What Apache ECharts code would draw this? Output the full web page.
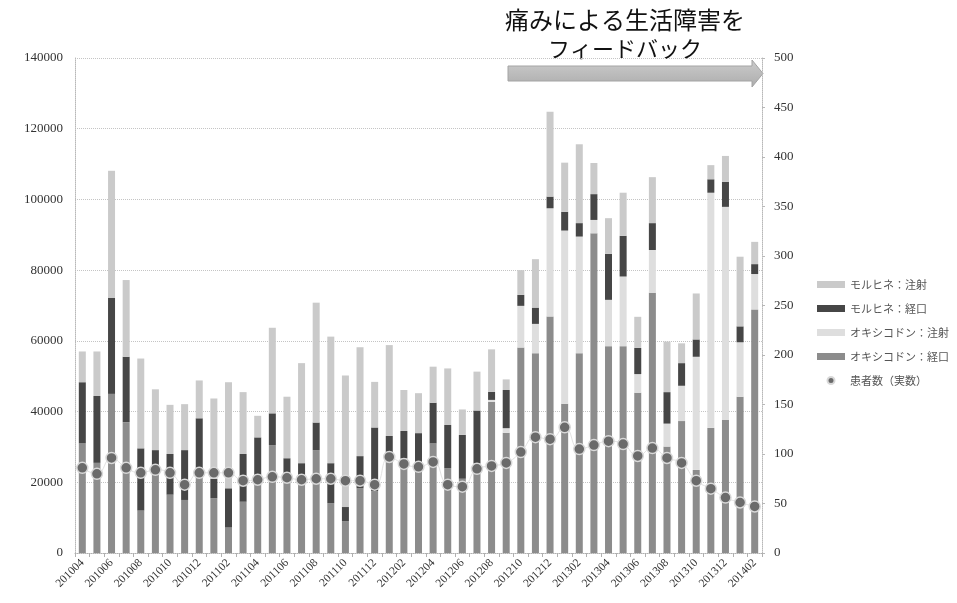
<!DOCTYPE html>
<html>
<head>
<meta charset="utf-8">
<script src="https://cdn.jsdelivr.net/npm/echarts@6/dist/echarts.min.js"></script>
<style>
  html, body { margin: 0; padding: 0; background: #ffffff; }
  #chart { width: 957px; height: 603px; }
</style>
</head>
<body>
<div id="chart"></div>
<script>
// Months (YYYYMM)
const months = [
  '201004','201005','201006','201007','201008','201009','201010','201011','201012',
  '201101','201102','201103','201104','201105','201106','201107','201108','201109','201110','201111','201112',
  '201201','201202','201203','201204','201205','201206','201207','201208','201209','201210','201211','201212',
  '201301','201302','201303','201304','201305','201306','201307','201308','201309','201310','201311','201312',
  '201401','201402'
];

// Stacked amounts, bottom to top
const oxyOral = [
  31000, 25500, 45000, 37000, 12000, 22500, 16500, 15000, 22000,
  15500, 7200, 14500, 22000, 30500, 22600, 22000, 29100, 14100, 9000, 18300, 17500,
  27200, 26800, 25500, 31000, 24000, 21000, 25400, 42800, 34000, 58100, 56500, 66900,
  42200, 56500, 90400, 58500, 58500, 45300, 73600, 30100, 37300, 23500, 35400, 37600,
  44200, 68900
];
const oxyInj = [
  0, 0, 0, 0, 0, 0, 0, 0, 0,
  0, 0, 0, 0, 0, 0, 0, 0, 0, 0, 0, 0,
  0, 0, 0, 0, 0, 0, 0, 500, 1300, 11800, 8300, 30600,
  49000, 33000, 3800, 13100, 19700, 5300, 12100, 6500, 10000, 32000, 66500, 60300,
  15400, 10000
];
const morOral = [
  17300, 18900, 27200, 18500, 17600, 6600, 11500, 14100, 16100,
  5500, 11100, 13500, 10700, 9000, 4200, 3400, 7800, 11300, 4000, 9100, 18000,
  5900, 7700, 8400, 11500, 12200, 12400, 14900, 2300, 10800, 3100, 4600, 3300,
  5300, 3800, 7300, 13000, 11500, 7400, 7600, 8900, 6400, 4900, 3800, 7100,
  4500, 2800
];
const morInj = [
  8700, 12600, 35900, 21700, 25400, 17200, 13900, 13000, 10700,
  22700, 30000, 17500, 6100, 24200, 17400, 28300, 33900, 35800, 37200, 30800, 12900,
  25700, 11600, 11300, 10200, 16000, 7200, 11000, 12000, 3000, 7000, 13700, 24000,
  13900, 22300, 8800, 10100, 12200, 8800, 13000, 14300, 5600, 13000, 4000, 7300,
  19700, 6300
];

// Patient counts (right axis)
const patients = [
  86, 80, 96, 86, 81, 84, 81, 69, 81,
  81, 81, 73, 74, 77, 76, 74, 75, 75, 73, 73, 69,
  97, 90, 87, 92, 69, 67, 85, 88, 91, 102, 117, 115,
  127, 105, 109, 113, 110, 98, 106, 96, 91, 73, 65, 56,
  51, 47
];

const names = ['モルヒネ：注射', 'モルヒネ：経口', 'オキシコドン：注射', 'オキシコドン：経口', '患者数（実数）'];

const numFont = 'Liberation Serif';
const jpFont = 'Noto Sans CJK JP';

function barSeries(name, data, color) {
  return {
    name: name,
    type: 'bar',
    stack: 'total',
    data: data,
    barWidth: 7,
    itemStyle: { color: color },
    emphasis: { disabled: true }
  };
}

const chart = echarts.init(document.getElementById('chart'), null, { renderer: 'canvas' });

chart.setOption({
  animation: false,
  backgroundColor: '#ffffff',
  grid: { left: 75, right: 195, top: 58, bottom: 50, containLabel: false },
  legend: {
    orient: 'vertical',
    left: 812,
    top: 274,
    itemWidth: 28,
    itemHeight: 7,
    itemGap: 13,
    data: [
      { name: names[0], icon: 'rect' },
      { name: names[1], icon: 'rect' },
      { name: names[2], icon: 'rect' },
      { name: names[3], icon: 'rect' },
      { name: names[4], icon: 'circle' }
    ],
    textStyle: { fontFamily: jpFont, fontSize: 11, color: '#555555' }
  },
  xAxis: {
    type: 'category',
    data: months,
    boundaryGap: true,
    axisLine: { show: true, lineStyle: { color: '#b0b0b0', type: 'dotted' } },
    axisTick: { show: true, interval: 0, length: 4, lineStyle: { color: '#b0b0b0' } },
    axisLabel: {
      interval: 1,
      rotate: 45,
      margin: 8,
      fontFamily: numFont,
      fontSize: 11.5,
      color: '#333333'
    },
    splitLine: { show: false }
  },
  yAxis: [
    {
      type: 'value',
      min: 0,
      max: 140000,
      interval: 20000,
      axisLine: { show: true, lineStyle: { color: '#b8b8b8', type: 'dotted' } },
      axisTick: { show: false },
      axisLabel: {
        margin: 12, fontFamily: numFont, fontSize: 13, color: '#333333',
        formatter: function (v) { return String(v); }
      },
      splitLine: { show: true, lineStyle: { color: '#c4c4c4', type: 'dotted', width: 1 } }
    },
    {
      type: 'value',
      min: 0,
      max: 500,
      interval: 50,
      position: 'right',
      axisLine: { show: true, lineStyle: { color: '#b8b8b8', type: 'dotted' } },
      axisTick: { show: true, length: 3, lineStyle: { color: '#b8b8b8' } },
      axisLabel: { margin: 12, fontFamily: numFont, fontSize: 13, color: '#333333' },
      splitLine: { show: false }
    }
  ],
  series: [
    barSeries(names[3], oxyOral, '#8c8c8c'),
    barSeries(names[2], oxyInj, '#dedede'),
    barSeries(names[1], morOral, '#464646'),
    barSeries(names[0], morInj, '#cacaca'),
    {
      name: names[4],
      type: 'line',
      yAxisIndex: 1,
      data: patients,
      symbol: 'circle',
      symbolSize: 11,
      showAllSymbol: true,
      smooth: true,
      lineStyle: { color: '#e2e2e2', width: 1 },
      itemStyle: { color: '#6a6a6a', borderColor: '#d8d8d8', borderWidth: 1.5 },
      emphasis: { disabled: true },
      z: 5
    }
  ],
  graphic: [
    {
      type: 'text',
      left: 505,
      top: 8,
      style: { text: '痛みによる生活障害を', fontFamily: jpFont, fontSize: 24, fill: '#111111' }
    },
    {
      type: 'text',
      left: 548,
      top: 38,
      style: { text: 'フィードバック', fontFamily: jpFont, fontSize: 22, fill: '#111111' }
    },
    {
      type: 'polygon',
      shape: {
        points: [[508, 66], [752, 66], [752, 60], [763, 73.5], [752, 87], [752, 81], [508, 81]]
      },
      style: {
        fill: new echarts.graphic.LinearGradient(0, 0, 0, 1, [
          { offset: 0, color: '#cccccc' },
          { offset: 0.5, color: '#bcbcbc' },
          { offset: 1, color: '#acacac' }
        ]),
        stroke: '#a4a4a4',
        lineWidth: 1
      }
    }
  ]
});
</script>
</body>
</html>
